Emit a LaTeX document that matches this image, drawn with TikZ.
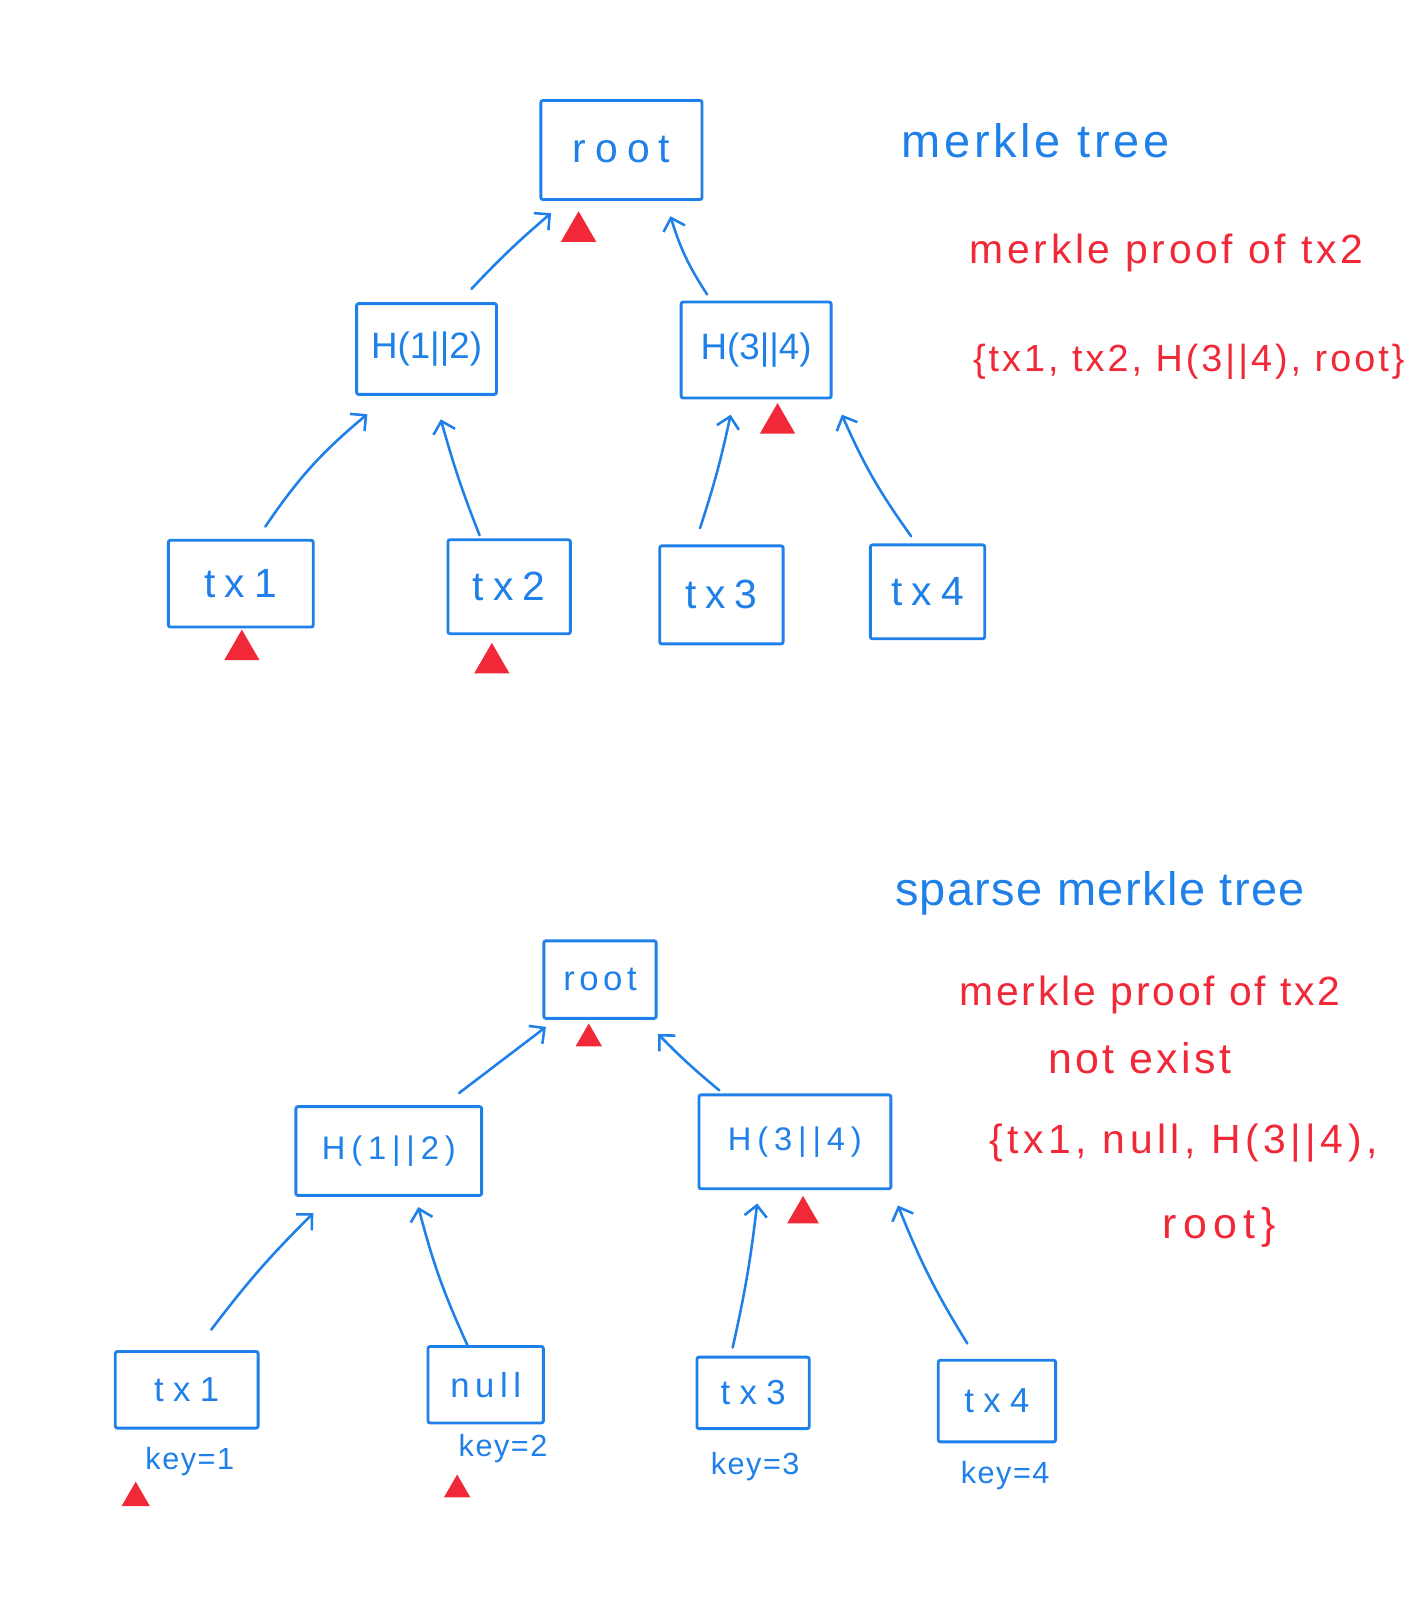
\documentclass[tikz,border=0pt]{standalone}
\usepackage{fontspec}
\setmainfont{Liberation Sans}
\usetikzlibrary{arrows.meta,calc,shapes.geometric}
\definecolor{penblue}{RGB}{30,128,232}
\definecolor{penred}{RGB}{240,40,55}
\newcommand{\fs}[2]{\fontsize{#1}{#1}\selectfont\addfontfeature{LetterSpace=#2}}
\tikzset{
  hbox/.style={draw=penblue, line width=2.8pt, text=penblue, inner sep=0pt, rounded corners=2pt},
  arr/.style={draw=penblue, line width=2.5pt, line cap=round, -{Straight Barb[length=11pt,width=22pt,line width=2.5pt]}},
  redmark/.style={regular polygon, regular polygon sides=3, fill=penred, inner sep=0pt},
  bluetxt/.style={text=penblue, inner sep=0pt},
  redtxt/.style={text=penred, inner sep=0pt},
}
\begin{document}
\begin{tikzpicture}[x=1pt,y=-1pt]
\path[use as bounding box] (0,0) rectangle (1395,1568);
\fill[white] (0,0) rectangle (1395,1568);

% ---------- top tree ----------
\node[hbox, minimum width=158pt, minimum height=97pt, font=\fs{40}{22}] (r1) at (609,147) {root};
\node[hbox, minimum width=137pt, minimum height=89pt, font=\fs{36}{0}] (h12a) at (418,342) {H(1||2)};
\node[hbox, minimum width=147pt, minimum height=94pt, font=\fs{36}{0}] (h34a) at (741,343) {H(3||4)};
\node[hbox, minimum width=142pt, minimum height=85pt, font=\fs{40}{22}] (t1a) at (236,572) {tx1};
\node[hbox, minimum width=120pt, minimum height=92pt, font=\fs{40}{22}] (t2a) at (499,575) {tx2};
\node[hbox, minimum width=121pt, minimum height=96pt, font=\fs{40}{22}] (t3a) at (707,583) {tx3};
\node[hbox, minimum width=112pt, minimum height=92pt, font=\fs{40}{22}] (t4a) at (909,580) {tx4};

\draw[arr] ($(h12a.north)+(44,-13)$) to[bend left=3] ($(r1.south)+(-69,12)$);
\draw[arr] ($(h34a.north)+(-48,-6)$) to[bend left=8] ($(r1.south)+(48,15)$);
\draw[arr] ($(t1a.north)+(24,-12)$) to[bend left=8] ($(h12a.south)+(-58,18)$);
\draw[arr] ($(t2a.north)+(-29,-3)$) to[bend left=3] ($(h12a.south)+(14,23)$);
\draw[arr] ($(t3a.north)+(-21,-16)$) to[bend right=3] ($(h34a.south)+(-25,15)$);
\draw[arr] ($(t4a.north)+(-16,-7)$) to[bend left=6] ($(h34a.south)+(84,15)$);

\node[redmark, minimum size=40pt] (m1) at (567,227) {};
\node[redmark, minimum size=40pt] (m2) at (237,637) {};
\node[redmark, minimum size=40pt] (m3) at (482,650) {};
\node[redmark, minimum size=40pt] (m4) at (762,415) {};

\node[bluetxt, font=\fs{46}{8}] (title1) at (1015,138) {merkle tree};
\node[redtxt, font=\fs{40}{9}] (proof1) at (1143,248) {merkle proof of tx2};
\node[redtxt, font=\fs{37}{8}] (set1) at (1165,355) {\{tx1, tx2, H(3||4), root\}};

% ---------- bottom tree ----------
\node[hbox, minimum width=110pt, minimum height=76pt, font=\fs{34}{13}] (r2) at (588,960) {root};
\node[hbox, minimum width=182pt, minimum height=87pt, font=\fs{32}{18}] (h12b) at (381,1128) {H(1||2)};
\node[hbox, minimum width=188pt, minimum height=92pt, font=\fs{32}{18}] (h34b) at (779,1119) {H(3||4)};
\node[hbox, minimum width=140pt, minimum height=75pt, font=\fs{34}{27}] (t1b) at (183,1362) {tx1};
\node[hbox, minimum width=113pt, minimum height=75pt, font=\fs{34}{16}] (nb) at (476,1357) {null};
\node[hbox, minimum width=110pt, minimum height=70pt, font=\fs{34}{27}] (t3b) at (738,1365) {tx3};
\node[hbox, minimum width=115pt, minimum height=80pt, font=\fs{34}{27}] (t4b) at (977,1373) {tx4};

\draw[arr] ($(h12b.north)+(69,-12)$) to ($(r2.south)+(-53,7)$);
\draw[arr] ($(h34b.north)+(-74,-3)$) to[bend left=3] ($(r2.south)+(57,14)$);
\draw[arr] ($(t1b.north)+(24,-20)$) to[bend left=4] ($(h12b.south)+(-74,16)$);
\draw[arr] ($(nb.north)+(-18,0)$) to[bend left=5] ($(h12b.south)+(29,10)$);
\draw[arr] ($(t3b.north)+(-20,-8)$) to[bend right=3] ($(h34b.south)+(-37,13)$);
\draw[arr] ($(t4b.north)+(-29,-15)$) to[bend left=5] ($(h34b.south)+(101,15)$);

\node[bluetxt, font=\fs{30}{5}] (k1) at (186,1432) {key=1};
\node[bluetxt, font=\fs{30}{5}] (k2) at (493,1420) {key=2};
\node[bluetxt, font=\fs{30}{5}] (k3) at (740,1437) {key=3};
\node[bluetxt, font=\fs{30}{5}] (k4) at (985,1446) {key=4};

\node[redmark, minimum size=30pt] (m5) at (577,1018) {};
\node[redmark, minimum size=32pt] (m6) at (133,1468) {};
\node[redmark, minimum size=30pt] (m7) at (448,1460) {};
\node[redmark, minimum size=36pt] (m8) at (787,1190) {};

\node[bluetxt, font=\fs{46}{3}] (title2) at (1078,875) {sparse merkle tree};
\node[redtxt, font=\fs{40}{7}] (proof2) at (1127,975) {merkle proof of tx2};
\node[redtxt, font=\fs{42}{8}] (ne) at (1117,1037) {not exist};
\node[redtxt, font=\fs{40}{11}] (set2) at (1160,1120) {\{tx1, null, H(3||4),};
\node[redtxt, font=\fs{42}{15}] (set2b) at (1195,1203) {root\}};
\end{tikzpicture}
\end{document}
